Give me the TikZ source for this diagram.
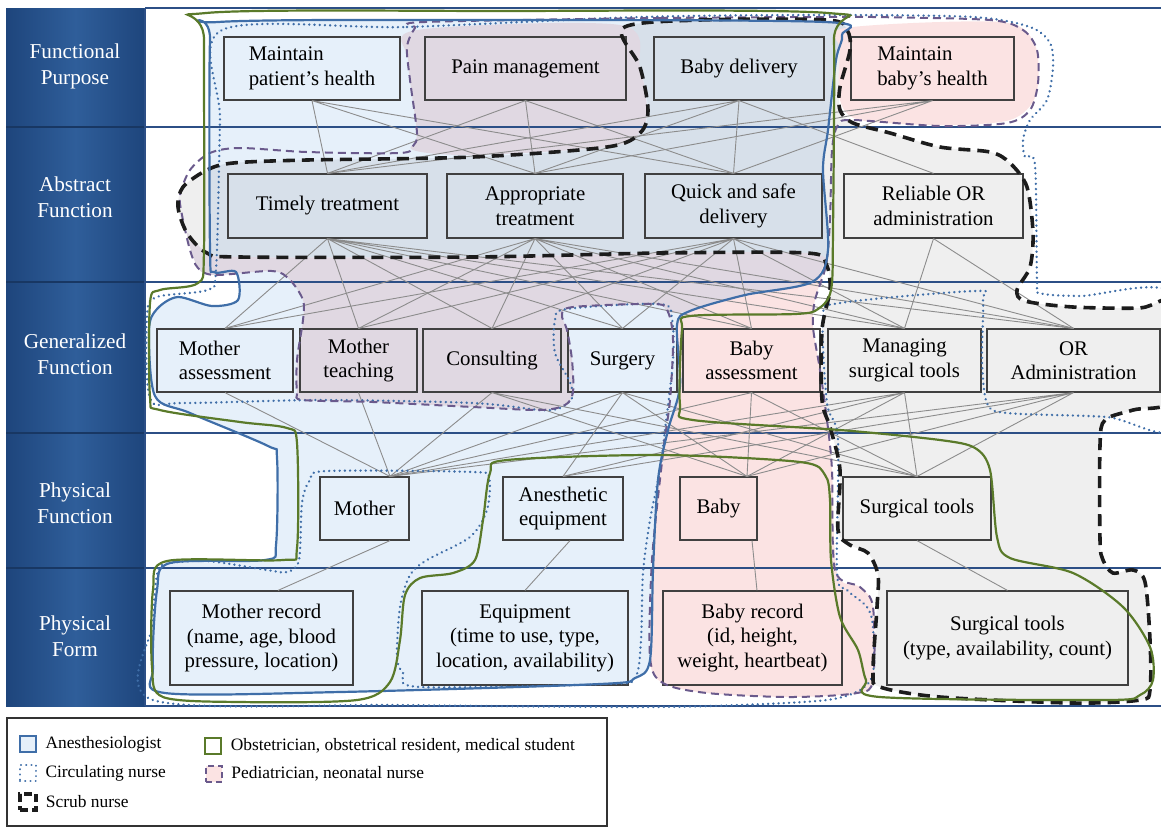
\documentclass[tikz,border=0pt]{standalone}
\usepackage{fontspec}
\setmainfont{Liberation Serif}
\usetikzlibrary{positioning}

\definecolor{anesblue}{HTML}{3F6EA8}
\definecolor{obgreen}{HTML}{5A7A2A}
\definecolor{pedpurple}{HTML}{6A5A8C}
\definecolor{scrubblack}{HTML}{1C1C1C}
\definecolor{bluefill}{HTML}{E6F0FA}
\definecolor{bgfill}{HTML}{D7E0EA}
\definecolor{grayfill}{HTML}{EFEFEF}
\definecolor{pinkfill}{HTML}{FBE3E3}
\definecolor{purplefill}{HTML}{E0D8E2}
\definecolor{colL}{HTML}{1E457C}
\definecolor{colM}{HTML}{2F5E9A}
\definecolor{gridblue}{HTML}{2C4F86}

\tikzset{
  box/.style={draw=black!75, line width=0.6pt, align=center, inner sep=2pt,
    font=\fontsize{10.4}{12.3}\selectfont},
  lab/.style={text=white, align=center, font=\fontsize{10.6}{13}\selectfont},
  link/.style={draw=black!45, line width=0.45pt},
  grid/.style={draw=gridblue, line width=0.8pt},
  anes/.style={draw=anesblue, line width=1.1pt},
  obst/.style={draw=obgreen, line width=1.1pt},
  circ/.style={draw=anesblue, line width=1.3pt, dash pattern=on 0.01pt off 2.6pt, line cap=round},
  pedi/.style={draw=pedpurple, line width=1pt, dash pattern=on 4pt off 2.5pt},
  scrub/.style={draw=scrubblack, line width=1.8pt, dash pattern=on 6pt off 3.5pt},
  key/.style={minimum size=8pt, inner sep=0pt},
  legtext/.style={inner sep=1pt, font=\fontsize{8.7}{10}\selectfont},
  % role regions, traced in pixel coordinates
  anespath/.style={insert path={plot[smooth cycle, tension=0.5] coordinates {
    (218,22) (500,20) (825,22) (842,35) (836,60) (828,130) (823,170) (828,250)
    (812,282) (745,295) (690,311) (677,325) (680,386) (668,430) (658,480) (653,570)
    (650,660) (635,678) (600,684) (340,692) (165,693) (153,667) (157,590) (170,563)
    (265,560) (276,545) (277,458) (268,446) (190,413) (155,396) (149,330) (157,309)
    (178,297) (212,306) (238,300) (236,272) (214,272) (210,250) (210,40)}}},
  obstpath/.style={insert path={plot[smooth cycle, tension=0.5] coordinates {
    (206,13) (500,11) (828,13) (834,40) (833,230) (831,290) (818,309) (795,314)
    (690,316) (682,330) (680,405) (693,420) (840,430) (940,440) (975,448) (990,470)
    (997,537) (1010,558) (1073,573) (1123,607) (1150,647) (1153,680) (1140,695)
    (1107,700) (880,697) (866,680) (858,650) (840,617) (831,560) (830,500) (825,475)
    (800,462) (660,455) (507,460) (490,473) (483,520) (475,560) (453,573) (420,578)
    (405,595) (400,640) (390,682) (357,700) (240,702) (163,697) (152,667) (153,590)
    (167,561) (283,560) (297,548) (297,443) (287,428) (240,422) (160,410) (150,397)
    (150,303) (160,290) (198,283) (204,250) (204,40)}}},
  circpath/.style={insert path={plot[smooth cycle, tension=0.5] coordinates {
    (222,30) (407,27) (640,17) (827,15) (973,17) (1030,27) (1050,43) (1053,67)
    (1047,100) (1030,120) (1023,140) (1025,157) (1035,165) (1037,280) (1040,293)
    (1080,296) (1175,295) (1175,427) (1107,417) (1007,413) (987,403) (982,360)
    (983,300) (975,291) (840,303) (823,317) (827,403) (838,440) (837,573) (847,590)
    (867,607) (873,627) (873,673) (860,690) (827,700) (740,705) (640,707) (400,705)
    (153,700) (153,623) (157,575) (165,564) (207,561) (267,570) (287,572) (299,560)
    (302,503) (310,480) (327,471) (473,472) (489,478) (487,510) (470,537) (427,560)
    (410,575) (400,607) (397,657) (403,673) (420,687) (607,684) (635,678) (641,640)
    (643,573) (650,520) (660,470) (665,430) (673,360) (672,319) (660,304) (567,309)
    (555,320) (555,353) (570,382) (572,398) (560,408) (540,410) (473,403) (320,400)
    (183,403) (150,398) (147,315) (157,297) (207,290) (216,270) (220,120)}}},
  pedipath/.style={insert path={plot[smooth cycle, tension=0.5] coordinates {
    (425,22) (660,18) (827,17) (873,17) (990,20) (1023,30) (1037,50) (1038,83)
    (1030,110) (1007,123) (940,126) (853,120) (838,125) (832,150) (830,220) (826,265)
    (815,300) (813,327) (820,370) (827,420) (832,470) (835,570) (860,587) (873,607)
    (873,680) (857,693) (790,697) (707,693) (663,683) (650,657) (652,560) (663,453)
    (670,400) (673,340) (668,312) (655,304) (573,307) (562,315) (567,330) (572,360)
    (573,392) (565,405) (540,410) (473,407) (373,402) (303,400) (297,392) (297,360)
    (303,320) (303,300) (290,280) (272,271) (215,275) (198,268) (190,250) (182,215)
    (180,195) (190,170) (210,153) (240,148) (307,152) (400,153) (413,146) (417,133)
    (410,80) (407,47) (415,28)}}},
  scrubpath/.style={insert path={plot[smooth cycle, tension=0.5] coordinates {
    (623,28) (700,20) (827,20) (847,30) (850,50) (840,87) (840,110) (853,123)
    (890,133) (940,147) (990,152) (1010,163) (1027,187) (1033,233) (1030,267)
    (1017,290) (1025,301) (1073,307) (1140,308) (1175,303) (1175,397) (1133,410)
    (1105,420) (1100,445) (1100,540) (1103,560) (1113,573) (1133,570) (1145,582)
    (1150,640) (1150,690) (1140,700) (1073,703) (940,697) (880,687) (873,673)
    (877,607) (878,575) (868,553) (850,545) (838,530) (840,470) (830,427) (822,400)
    (822,330) (830,290) (826,264) (807,253) (660,253) (473,257) (240,257) (207,253)
    (187,233) (178,207) (183,187) (207,170) (233,163) (307,160) (473,157) (607,147)
    (640,133) (648,110) (640,67)}}},
  pinkbaby/.style={insert path={plot[smooth cycle, tension=0.5] coordinates {
    (845,28) (1000,22) (1035,45) (1036,95) (1010,120) (940,125) (860,120) (840,100)
    (840,50)}}},
  pinkcolumn/.style={insert path={plot[smooth cycle, tension=0.5] coordinates {
    (828,250) (812,282) (745,295) (690,311) (677,325) (680,386) (668,430) (658,480)
    (653,570) (650,660) (663,683) (707,693) (790,697) (857,693) (873,680) (873,607)
    (860,587) (837,573) (832,470) (827,420) (820,370) (813,327) (815,300) (826,265)}}},
  purplepain/.style={insert path={plot[smooth cycle, tension=0.5] coordinates {
    (417,30) (620,25) (640,67) (647,110) (640,133) (607,147) (473,155) (413,150)
    (417,133) (408,60)}}},
  purpleband/.style={insert path={plot[smooth cycle, tension=0.5] coordinates {
    (187,233) (207,253) (240,257) (473,257) (660,253) (807,253) (826,264) (812,282)
    (745,295) (690,311) (668,312) (655,304) (573,307) (562,315) (567,330) (572,360)
    (573,392) (565,405) (540,410) (473,407) (373,402) (303,400) (297,392) (297,360)
    (303,320) (303,300) (290,280) (272,271) (215,275) (198,268)}}}
}

\begin{document}
\begin{tikzpicture}[x=0.5pt, y=-0.5pt]
  \useasboundingbox (0,0) rectangle (1161,827);

  % region fills
  \fill[grayfill, scrubpath];
  \fill[bluefill, anespath];
  \begin{scope}
    \clip[scrubpath];
    \fill[bgfill, anespath];
  \end{scope}
  \fill[purplefill, purplepain];
  \fill[purplefill, purpleband];
  \fill[pinkfill, pinkbaby];
  \fill[pinkfill, pinkcolumn];

  % level column
  \shade[left color=colL, right color=colL, middle color=colM] (6,8) rectangle (145,706);
  \draw[colL!80!black, line width=0.6pt] (6,127) -- (145,127) (6,282) -- (145,282)
    (6,433) -- (145,433) (6,568) -- (145,568);
  \node[lab] (lfp) at (75,66) {Functional\\Purpose};
  \node[lab] (laf) at (75,197) {Abstract\\Function};
  \node[lab] (lgf) at (75,354) {Generalized\\Function};
  \node[lab] (lpf) at (75,503) {Physical\\Function};
  \node[lab] (lpm) at (75,636) {Physical\\Form};

  % level lines
  \draw[grid] (145,8) -- (1161,8);
  \draw[grid] (145,127) -- (1161,127);
  \draw[grid] (145,282) -- (1161,282);
  \draw[grid] (145,433) -- (1161,433);
  \draw[grid] (145,568) -- (1161,568);
  \draw[grid] (145,706) -- (1161,706);
  \draw[grid] (145,8) -- (145,706);

  % functional purpose
  \node[box, minimum width=88pt, minimum height=31.5pt, align=left] (mph) at (312,68.5) {Maintain\\patient’s health};
  \node[box, minimum width=100.5pt, minimum height=31.5pt] (pain) at (525.5,68.5) {Pain management};
  \node[box, minimum width=85pt, minimum height=31.5pt] (bdel) at (739,68.5) {Baby delivery};
  \node[box, minimum width=81.5pt, minimum height=31.5pt, align=left] (mbh) at (932.5,68.5) {Maintain\\baby’s health};

  % abstract function
  \node[box, minimum width=99.5pt, minimum height=32pt] (timely) at (327.5,206) {Timely treatment};
  \node[box, minimum width=88pt, minimum height=32pt] (approp) at (535,206) {Appropriate\\treatment};
  \node[box, minimum width=88.5pt, minimum height=32pt] (quick) at (733.5,206) {Quick and safe\\delivery};
  \node[box, minimum width=89.5pt, minimum height=32pt] (reliable) at (933.5,206) {Reliable OR\\administration};

  % generalized function
  \node[box, minimum width=68pt, minimum height=31.5pt, align=left] (mass) at (225,360.5) {Mother\\assessment};
  \node[box, minimum width=58.5pt, minimum height=31.5pt] (mteach) at (358.5,360.5) {Mother\\teaching};
  \node[box, minimum width=69pt, minimum height=31.5pt] (consult) at (492,360.5) {Consulting};
  \node[box, minimum width=54.5pt, minimum height=31.5pt] (surgery) at (622.5,360.5) {Surgery};
  \node[box, minimum width=68.5pt, minimum height=31.5pt] (bassess) at (751.5,360.5) {Baby\\assessment};
  \node[box, minimum width=76.5pt, minimum height=31.5pt] (managing) at (904.5,360.5) {Managing\\surgical tools};
  \node[box, minimum width=86.5pt, minimum height=31.5pt] (oradmin) at (1073.5,360.5) {OR\\Administration};

  % physical function
  \node[box, minimum width=44.5pt, minimum height=31.5pt] (mother) at (364.5,508.5) {Mother};
  \node[box, minimum width=60pt, minimum height=31.5pt] (anesth) at (563,508.5) {Anesthetic\\equipment};
  \node[box, minimum width=38.5pt, minimum height=31.5pt] (baby) at (718.5,508.5) {Baby};
  \node[box, minimum width=74pt, minimum height=31.5pt] (stools) at (917,508.5) {Surgical tools};

  % physical form
  \node[box, minimum width=91.5pt, minimum height=47pt] (mrec) at (261.5,638) {Mother record\\(name, age, blood\\pressure, location)};
  \node[box, minimum width=103pt, minimum height=47pt] (equip) at (525,638) {Equipment\\(time to use, type,\\location, availability)};
  \node[box, minimum width=89.5pt, minimum height=47pt] (brec) at (752.5,638) {Baby record\\(id, height,\\weight, heartbeat)};
  \node[box, minimum width=120.5pt, minimum height=47pt] (stoolsrec) at (1007.5,638) {Surgical tools\\(type, availability, count)};

  % means-ends links
  \draw[link] (mph.south) -- (timely.north) (mph.south) -- (approp.north) (mph.south) -- (quick.north);
  \draw[link] (pain.south) -- (timely.north) (pain.south) -- (approp.north) (pain.south) -- (quick.north);
  \draw[link] (bdel.south) -- (timely.north) (bdel.south) -- (approp.north) (bdel.south) -- (quick.north);
  \draw[link] (bdel.south) -- (reliable.north);
  \draw[link] (mbh.south) -- (timely.north) (mbh.south) -- (approp.north) (mbh.south) -- (quick.north);

  \draw[link] (timely.south) -- (mass.north) (timely.south) -- (mteach.north) (timely.south) -- (consult.north)
    (timely.south) -- (surgery.north) (timely.south) -- (bassess.north) (timely.south) -- (managing.north)
    (timely.south) -- (oradmin.north);
  \draw[link] (approp.south) -- (mass.north) (approp.south) -- (mteach.north) (approp.south) -- (consult.north)
    (approp.south) -- (surgery.north) (approp.south) -- (bassess.north) (approp.south) -- (managing.north)
    (approp.south) -- (oradmin.north);
  \draw[link] (quick.south) -- (mass.north) (quick.south) -- (mteach.north) (quick.south) -- (consult.north)
    (quick.south) -- (surgery.north) (quick.south) -- (bassess.north) (quick.south) -- (managing.north)
    (quick.south) -- (oradmin.north);
  \draw[link] (reliable.south) -- (managing.north) (reliable.south) -- (oradmin.north);

  \draw[link] (mass.south) -- ([xshift=12.75pt]mother.north);
  \draw[link] (mteach.south) -- ([xshift=12.75pt]mother.north);
  \draw[link] (consult.south) -- ([xshift=12.75pt]mother.north) (consult.south) -- ([xshift=14.25pt]baby.north)
    (consult.south) -- (stools.north);
  \draw[link] (surgery.south) -- ([xshift=12.75pt]mother.north) (surgery.south) -- (anesth.north)
    (surgery.south) -- ([xshift=14.25pt]baby.north) (surgery.south) -- (stools.north);
  \draw[link] (bassess.south) -- ([xshift=12.75pt]mother.north) (bassess.south) -- ([xshift=14.25pt]baby.north)
    (bassess.south) -- (stools.north);
  \draw[link] (managing.south) -- ([xshift=12.75pt]mother.north) (managing.south) -- (anesth.north)
    (managing.south) -- ([xshift=14.25pt]baby.north) (managing.south) -- (stools.north);
  \draw[link] (oradmin.south) -- ([xshift=12.75pt]mother.north) (oradmin.south) -- (anesth.north)
    (oradmin.south) -- ([xshift=14.25pt]baby.north) (oradmin.south) -- (stools.north);

  \draw[link] ([xshift=12.75pt]mother.south) -- ([xshift=8.25pt]mrec.north);
  \draw[link] ([xshift=3.5pt]anesth.south) -- (equip.north);
  \draw[link] ([xshift=16.75pt]baby.south) -- ([xshift=2.25pt]brec.north);
  \draw[link] (stools.south) -- (stoolsrec.north);

  % role outlines
  \draw[circ, circpath];
  \draw[pedi, pedipath];
  \draw[scrub, scrubpath];
  \draw[anes, anespath];
  \draw[obst, obstpath];

  % legend
  \draw[black!80, line width=0.6pt] (7,718) rectangle (607,826);
  \node[key, anes, fill=bluefill] (kanes) at (28,744) {};
  \node[legtext, right=3pt of kanes] (tanes) {Anesthesiologist};
  \node[key, circ, line width=1.1pt] (kcirc) at (28,773) {};
  \node[legtext, right=3pt of kcirc] (tcirc) {Circulating nurse};
  \node[key, scrub, line width=1.6pt, dash pattern=on 4pt off 2pt] (kscrub) at (28,802) {};
  \node[legtext, right=3pt of kscrub] (tscrub) {Scrub nurse};
  \node[key, obst, line width=1.4pt] (kobst) at (213,746) {};
  \node[legtext, right=3pt of kobst] (tobst) {Obstetrician, obstetrical resident, medical student};
  \node[key, pedi, fill=pinkfill, dash pattern=on 3pt off 2pt] (kpedi) at (214,774) {};
  \node[legtext, right=3pt of kpedi] (tpedi) {Pediatrician, neonatal nurse};
\end{tikzpicture}
\end{document}
